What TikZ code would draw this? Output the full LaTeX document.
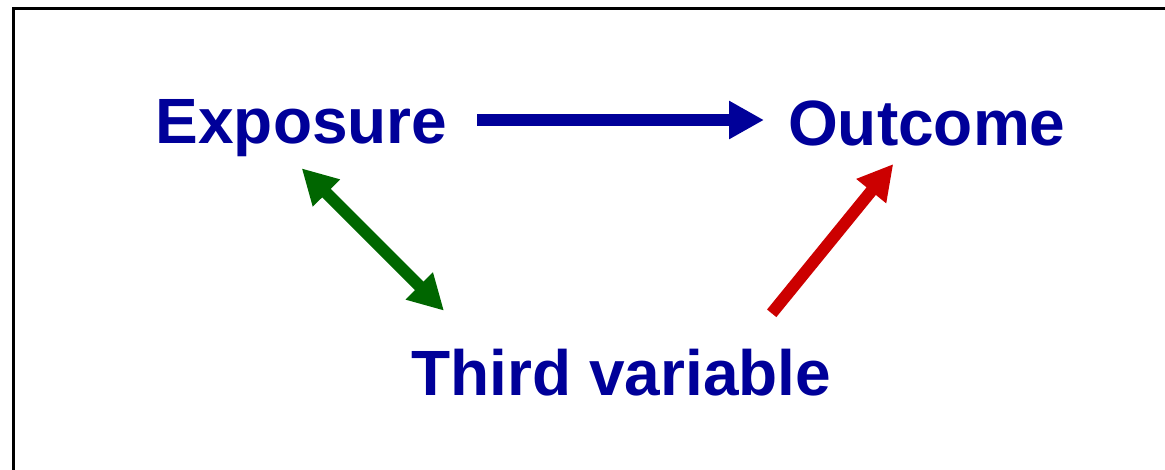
\documentclass[tikz,border=0pt]{standalone}
\usepackage{fontspec}
\setmainfont{Liberation Sans}
\usetikzlibrary{arrows.meta}
\definecolor{txtblue}{HTML}{000099}
\definecolor{arrblue}{HTML}{000099}
\definecolor{arrgreen}{HTML}{006600}
\definecolor{arrred}{HTML}{CC0000}
\tikzset{
  lbl/.style={inner sep=0pt, anchor=base west, text=txtblue, font=\fontsize{64}{70}\selectfont\bfseries},
  fat/.style={line width=12pt, -{Triangle[length=35pt,width=36pt]}},
  fatboth/.style={line width=12pt, {Triangle[length=35pt,width=36pt]}-{Triangle[length=35pt,width=36pt]}}
}
\begin{document}
\begin{tikzpicture}[x=1pt,y=-1pt]
\useasboundingbox (0,0) rectangle (1165,469);
\clip (0,0) rectangle (1165,469);
\draw[line width=3pt] (13.5,8.5) rectangle (1200,500);
\node[lbl] (expo) at (155.5,143) {Exposure};
\node[lbl] (outc) at (788,145) {Outcome};
\node[lbl] (third) at (411.4,395) {Third variable};
\coordinate (b1) at (477,120);
\coordinate (b2) at (764,120);
\coordinate (g1) at (301.7,168.3);
\coordinate (g2) at (444,310.7);
\coordinate (r1) at (771.7,313.3);
\coordinate (r2) at (893.3,164);
\draw[fat, draw=arrblue, fill=arrblue] (b1) -- (b2);
\draw[fatboth, draw=arrgreen, fill=arrgreen] (g1) -- (g2);
\draw[fat, draw=arrred, fill=arrred] (r1) -- (r2);
\end{tikzpicture}
\end{document}
